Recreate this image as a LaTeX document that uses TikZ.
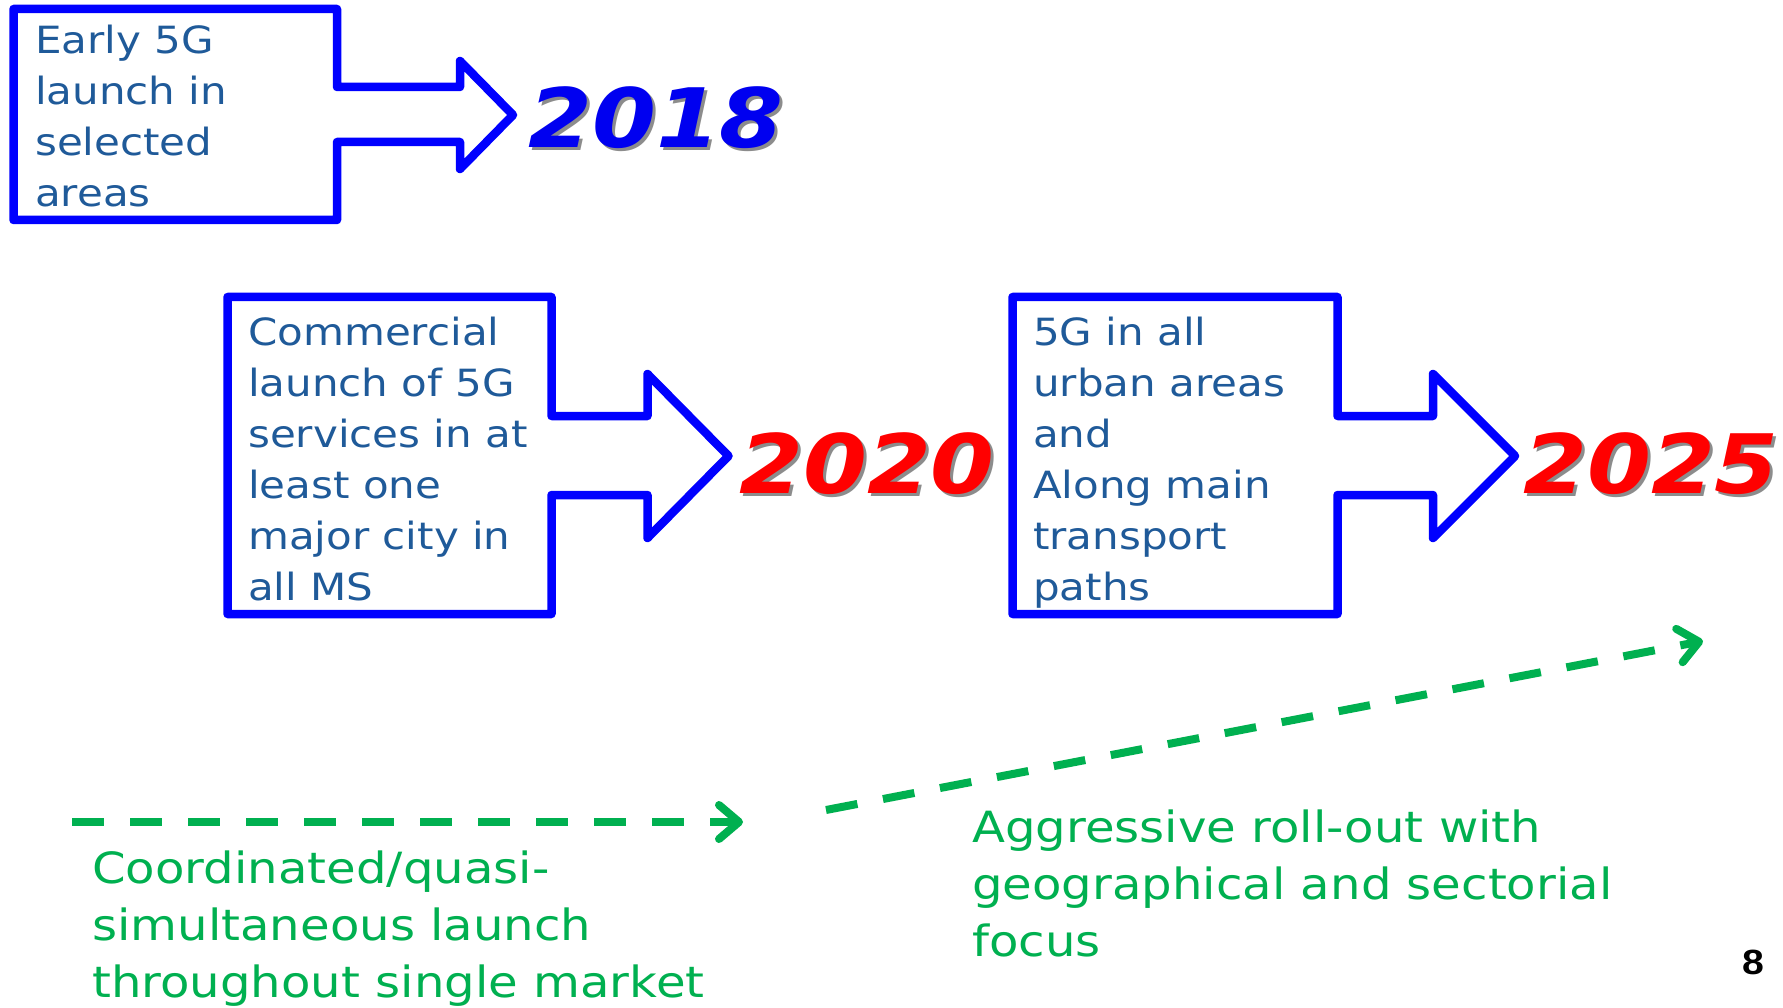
\documentclass[tikz,border=0pt]{standalone}
\usepackage{fontspec}
\usetikzlibrary{arrows.meta}
\newfontfamily\vfont[FakeStretch=1.12]{DejaVu Sans}
\newfontfamily\pnfont[FakeStretch=1.12]{Liberation Sans}
\definecolor{boxblue}{RGB}{0,0,255}
\definecolor{txtblue}{RGB}{31,90,153}
\definecolor{ggreen}{RGB}{0,176,80}
\definecolor{yred}{RGB}{255,0,0}
\definecolor{yblue}{RGB}{0,0,240}
\begin{document}
\begin{tikzpicture}[x=1pt,y=-1pt,
  outline/.style={draw=boxblue,line width=8.5pt,line join=round},
  boxtext/.style={anchor=base west,inner sep=0pt,align=left,text=txtblue,font=\vfont\fontsize{37.5}{51}\selectfont},
  greentext/.style={anchor=base west,inner sep=0pt,align=left,text=ggreen,font=\vfont\fontsize{43}{57}\selectfont},
  year/.style={anchor=base,inner sep=0pt,font=\vfont\fontsize{82}{90}\selectfont\bfseries\itshape},
  yshadow/.style={year,text=black!45},
  roll/.style={draw=ggreen,line width=8pt,dash pattern=on 32pt off 26pt,-{Straight Barb[length=20pt,width=34pt,line cap=round,line join=round]}}
]
\useasboundingbox[fill=white] (0,0) rectangle (1783,1008);

% box outlines with arrows
\draw[outline] (13.5,9) -- (337,9) -- (337,87) -- (460,87) -- (460,61) -- (513,115) -- (460,169) -- (460,142) -- (337,142) -- (337,220) -- (13.5,220) -- cycle;
\draw[outline] (227.5,297) -- (551.5,297) -- (551.5,416) -- (647.5,416) -- (647.5,374) -- (728.5,456) -- (647.5,538) -- (647.5,495) -- (551.5,495) -- (551.5,614) -- (227.5,614) -- cycle;
\draw[outline] (1012.5,297) -- (1337.5,297) -- (1337.5,416) -- (1433,416) -- (1433,374) -- (1515,456) -- (1433,538) -- (1433,495) -- (1337.5,495) -- (1337.5,614) -- (1012.5,614) -- cycle;

% box texts (anchored at the baseline of their last line)
\node[boxtext] (t1) at (35,207) {Early 5G\\launch in\\selected\\areas};
\node[boxtext] (t2) at (248,600) {Commercial\\launch of 5G\\services in at\\least one\\major city in\\all MS};
\node[boxtext] (t3) at (1033,600) {5G in all\\urban areas\\and\\Along main\\transport\\paths};

% years
\node[yshadow] (y1s) at (659,151) {2018};
\node[year,text=yblue] (y1) at (656,148) {2018};
\node[yshadow] (y2s) at (870,496) {2020};
\node[year,text=yred] (y2) at (867,493) {2020};
\node[yshadow] (y3s) at (1654,496) {2025};
\node[year,text=yred] (y3) at (1651,493) {2025};

% green dashed arrows
\coordinate (g1s) at (72,822);
\coordinate (g1e) at (743,822);
\coordinate (g2s) at (826,810);
\coordinate (g2e) at (1703,641);
\draw[roll] (g1s) -- (g1e);
\draw[roll] (g2s) -- (g2e);

% green texts
\node[greentext] (c1) at (92,997) {Coordinated/quasi-\\simultaneous launch\\throughout single market};
\node[greentext] (c2) at (972,956) {Aggressive roll-out with\\geographical and sectorial\\focus};

% page number
\node[anchor=base,inner sep=0pt,font=\pnfont\fontsize{35}{40}\selectfont\bfseries] (pn) at (1753,974) {8};
\end{tikzpicture}
\end{document}
